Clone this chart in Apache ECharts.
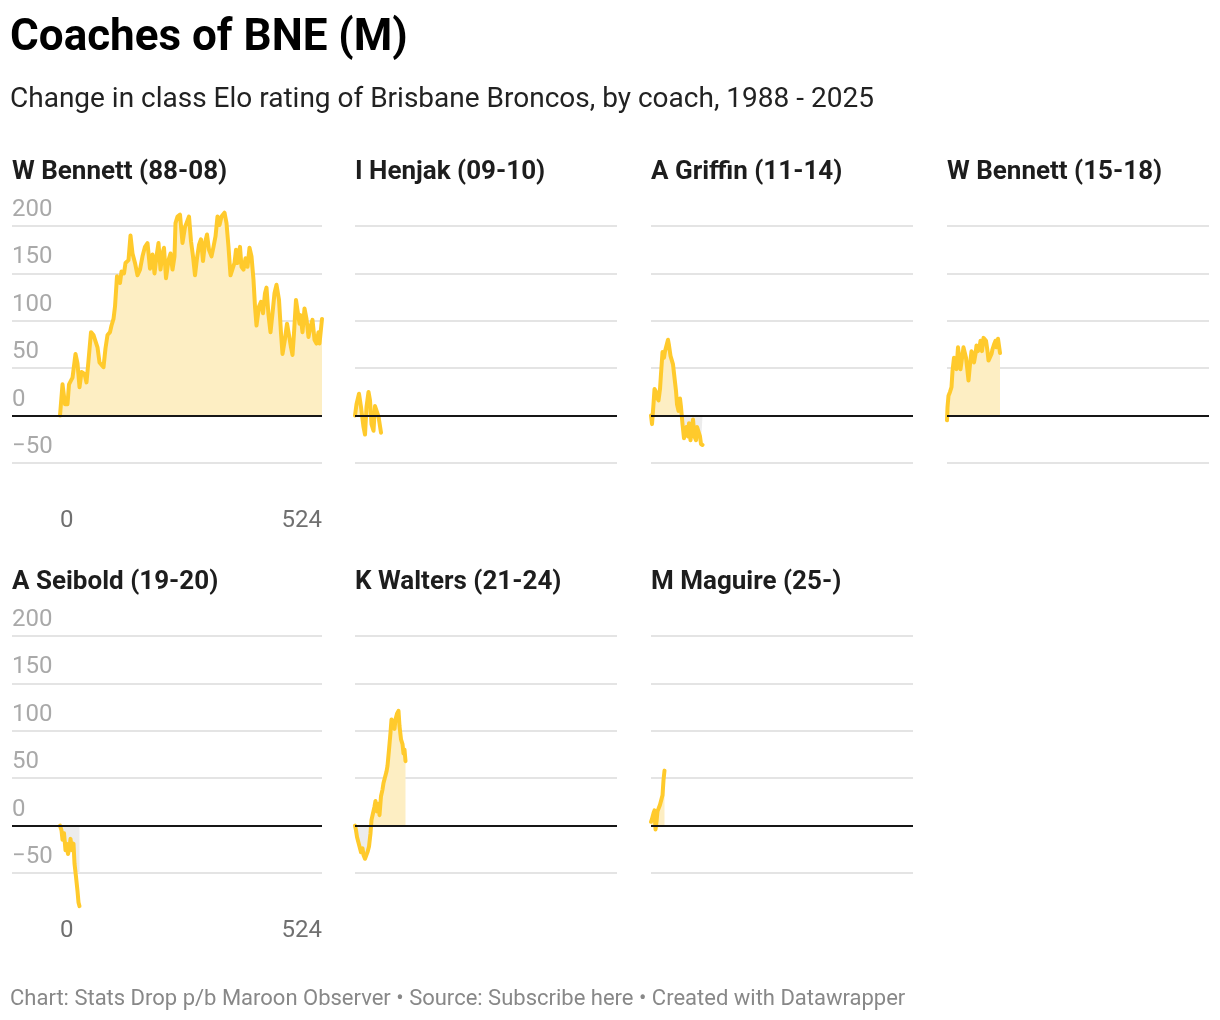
<!DOCTYPE html>
<html>
<head>
<meta charset="utf-8">
<script src="https://cdn.jsdelivr.net/npm/echarts@6/dist/echarts.min.js"></script>
<style>
  html, body { margin: 0; padding: 0; background: #ffffff; }
  #chart { width: 1220px; height: 1020px; }
</style>
</head>
<body>
<div id="chart"></div>
<script>
// ---------- DATA ----------
const titleText = 'Coaches of BNE (M)';
const subtitleText = 'Change in class Elo rating of Brisbane Broncos, by coach, 1988 - 2025';
const footerText = 'Chart: Stats Drop p/b Maroon Observer • Source: Subscribe here • Created with Datawrapper';

const coaches = ['W Bennett (88-08)', 'I Henjak (09-10)', 'A Griffin (11-14)', 'W Bennett (15-18)',
                 'A Seibold (19-20)', 'K Walters (21-24)', 'M Maguire (25-)'];

const yTicks = [-50, 0, 50, 100, 150, 200];
const xTickLabels = [0, 524];

const bennett88Games = [0,5,10,15,18,22,25,31,35,39,43,49,53,57,62,67,71,75,79,83,87,91,95,100,103,107,110,114,118,120,123,128,131,137,141,145,150,155,160,165,170,175,180,185,189,193,197,201,205,208,212,217,221,225,229,231,235,240,245,250,253,258,262,266,270,274,278,282,286,290,294,298,303,307,311,315,319,323,329,333,337,341,345,349,352,355,360,363,367,371,375,379,383,387,390,393,398,402,406,410,413,417,421,425,429,433,438,442,445,450,454,458,462,465,468,472,475,479,481,485,489,493,497,501,505,509,513,517,519,524];
const bennett88Elo   = [0,33,12,12,33,35,40,65,55,30,46,44,35,58,88,85,86,72,56,55,51,71,85,88,95,102,115,147,148,140,152,150,161,164,190,171,161,148,154,168,178,182,155,170,150,168,182,154,171,177,145,164,171,154,168,203,210,212,182,199,203,210,184,168,148,166,180,186,163,182,191,175,168,178,189,210,201,210,214,203,178,148,147,161,175,161,178,157,154,166,157,177,168,143,115,95,115,120,108,129,135,106,88,108,129,138,122,87,65,81,97,85,72,64,87,122,111,97,106,88,113,102,83,94,101,80,76,88,76,102];

const henjakGames = [0,3,8,12,17,20,23,27,30,33,37,40,43,47,52];
const henjakElo   = [0,12,23,9,-12,-20,9,25,16,-9,-16,10,10,-1,-18];

const griffinGames = [0,2,5,7,10,12,15,18,20,23,26,28,31,34,36,39,42,44,47,50,52,55,58,60,63,66,68,71,74,76,79,82,84,87,90,92,95,98,100,103];
const griffinElo   = [0,-9,12,28,25,19,16,28,44,67,61,68,74,80,74,63,65,54,40,26,12,5,18,9,-9,-24,-16,-12,-22,-8,-26,-13,-4,-22,-26,-12,-17,-22,-30,-31];

const bennett15Games = [0,1,3,6,9,11,14,17,19,22,25,27,30,33,35,38,41,43,46,49,51,54,57,59,62,65,67,70,73,75,78,81,83,86,89,91,94,97,99,102,105,106];
const bennett15Elo   = [-5,9,21,25,30,47,61,63,49,72,72,49,49,72,72,61,47,37,54,68,65,56,65,74,68,72,79,68,82,84,79,68,58,60,65,70,75,79,72,81,81,66];

const seiboldGames = [0,3,5,8,11,13,16,19,21,24,27,29,32,35,37,39];
const seiboldElo   = [0,-5,-15,-8,-26,-19,-30,-23,-14,-26,-19,-40,-54,-69,-81,-85];

const waltersGames = [0,2,4,7,9,12,15,17,20,23,25,28,31,33,36,39,41,44,47,49,52,55,57,60,63,65,68,71,73,76,79,81,84,87,89,92,95,97,99,101];
const waltersElo   = [0,-5,-12,-13,-22,-28,-24,-31,-35,-33,-28,-22,-8,6,13,20,26,15,23,11,31,38,45,43,57,63,80,98,112,109,102,112,118,121,105,91,86,76,80,68];

const maguireGames = [0,2,5,7,9,11,13,15,18,21,23,25,27];
const maguireElo   = [4,7,13,16,-4,4,15,16,22,20,32,48,58];

// ---------- LAYOUT / STYLE ----------
const FONT = 'Roboto';
const LINE = '#ffca2c';
const FILL_POS = '#fdeec3';
const FILL_NEG = '#ececec';

const seriesData = [
  [bennett88Games, bennett88Elo],
  [henjakGames, henjakElo],
  [griffinGames, griffinElo],
  [bennett15Games, bennett15Elo],
  [seiboldGames, seiboldElo],
  [waltersGames, waltersElo],
  [maguireGames, maguireElo]
];

const colLeft = [12, 355, 651, 947];
const colWidth = [310, 262, 262, 262];
const rowTop = [226, 636];
const plotH = 237;
const titleTop = [159, 569];

const zip = (xs, ys) => xs.map((x, i) => [x, ys[i]]);
const fmtY = v => (v < 0 ? '\u2212' + Math.abs(v) : String(v));

const grids = [], xAxes = [], yAxes = [], series = [], titles = [];
titles.push({ text: titleText, left: 10, top: 17, padding: 0,
  textStyle: { fontFamily: FONT, fontSize: 44, fontWeight: 'bold', color: '#000' } });
titles.push({ text: subtitleText, left: 10, top: 86, padding: 0,
  textStyle: { fontFamily: FONT, fontSize: 28, fontWeight: 'normal', color: '#222' } });
titles.push({ text: footerText, left: 10, top: 988, padding: 0,
  textStyle: { fontFamily: FONT, fontSize: 22, fontWeight: 'normal', color: '#888' } });

const areaIdx = [];
coaches.forEach((name, i) => {
  const row = Math.floor(i / 4), col = i % 4;
  const first = col === 0;
  grids.push({ left: colLeft[col], top: rowTop[row], width: colWidth[col], height: plotH, containLabel: false });
  titles.push({ text: name, left: colLeft[col], top: titleTop[row], padding: 0,
    textStyle: { fontFamily: FONT, fontSize: 26, fontWeight: 'bold', color: '#1d1d1d' } });
  xAxes.push({
    gridIndex: i, type: 'value', min: first ? -96 : 0, max: 524,
    axisLine: { show: false }, axisTick: { show: false }, splitLine: { show: false },
    axisLabel: {
      show: first, customValues: xTickLabels, margin: 58, verticalAlign: 'middle',
      alignMinLabel: 'left', alignMaxLabel: 'right',
      fontFamily: FONT, fontSize: 24, color: '#707070'
    }
  });
  yAxes.push({
    gridIndex: i, type: 'value', min: -50, max: 200, interval: 50,
    axisLine: { show: false }, axisTick: { show: false },
    splitLine: { show: true, lineStyle: { color: '#e4e4e4', width: 2 } },
    axisLabel: {
      show: first, inside: true, margin: 0, align: 'left', verticalAlign: 'bottom',
      padding: [0, 0, 4, 0], formatter: fmtY,
      fontFamily: FONT, fontSize: 24, color: '#a9a9a9'
    }
  });
  const d = zip(seriesData[i][0], seriesData[i][1]);
  areaIdx.push(series.length);
  series.push({
    type: 'line', xAxisIndex: i, yAxisIndex: i, data: d, showSymbol: false, silent: true,
    lineStyle: { width: 0 }, areaStyle: { opacity: 1 }, z: 1,
    clip: i === 4, animation: false
  });
  series.push({
    type: 'line', xAxisIndex: i, yAxisIndex: i, data: d, showSymbol: false, silent: true,
    lineStyle: { color: LINE, width: 4, join: 'round', cap: 'round' }, itemStyle: { color: LINE },
    z: 3, clip: false, animation: false,
    markLine: {
      silent: true, symbol: 'none', animation: false, label: { show: false },
      lineStyle: { color: '#161616', width: 2, type: 'solid' },
      data: [{ yAxis: 0 }]
    }
  });
});

const chart = echarts.init(document.getElementById('chart'), null, { renderer: 'canvas' });
chart.setOption({
  backgroundColor: '#ffffff',
  animation: false,
  title: titles,
  grid: grids,
  xAxis: xAxes,
  yAxis: yAxes,
  visualMap: {
    type: 'piecewise', show: false, dimension: 1, seriesIndex: areaIdx,
    pieces: [{ gt: 0, lte: 1000, color: FILL_POS }, { gte: -1000, lte: 0, color: FILL_NEG }],
    outOfRange: { color: FILL_POS }
  },
  series: series
});
</script>
</body>
</html>
